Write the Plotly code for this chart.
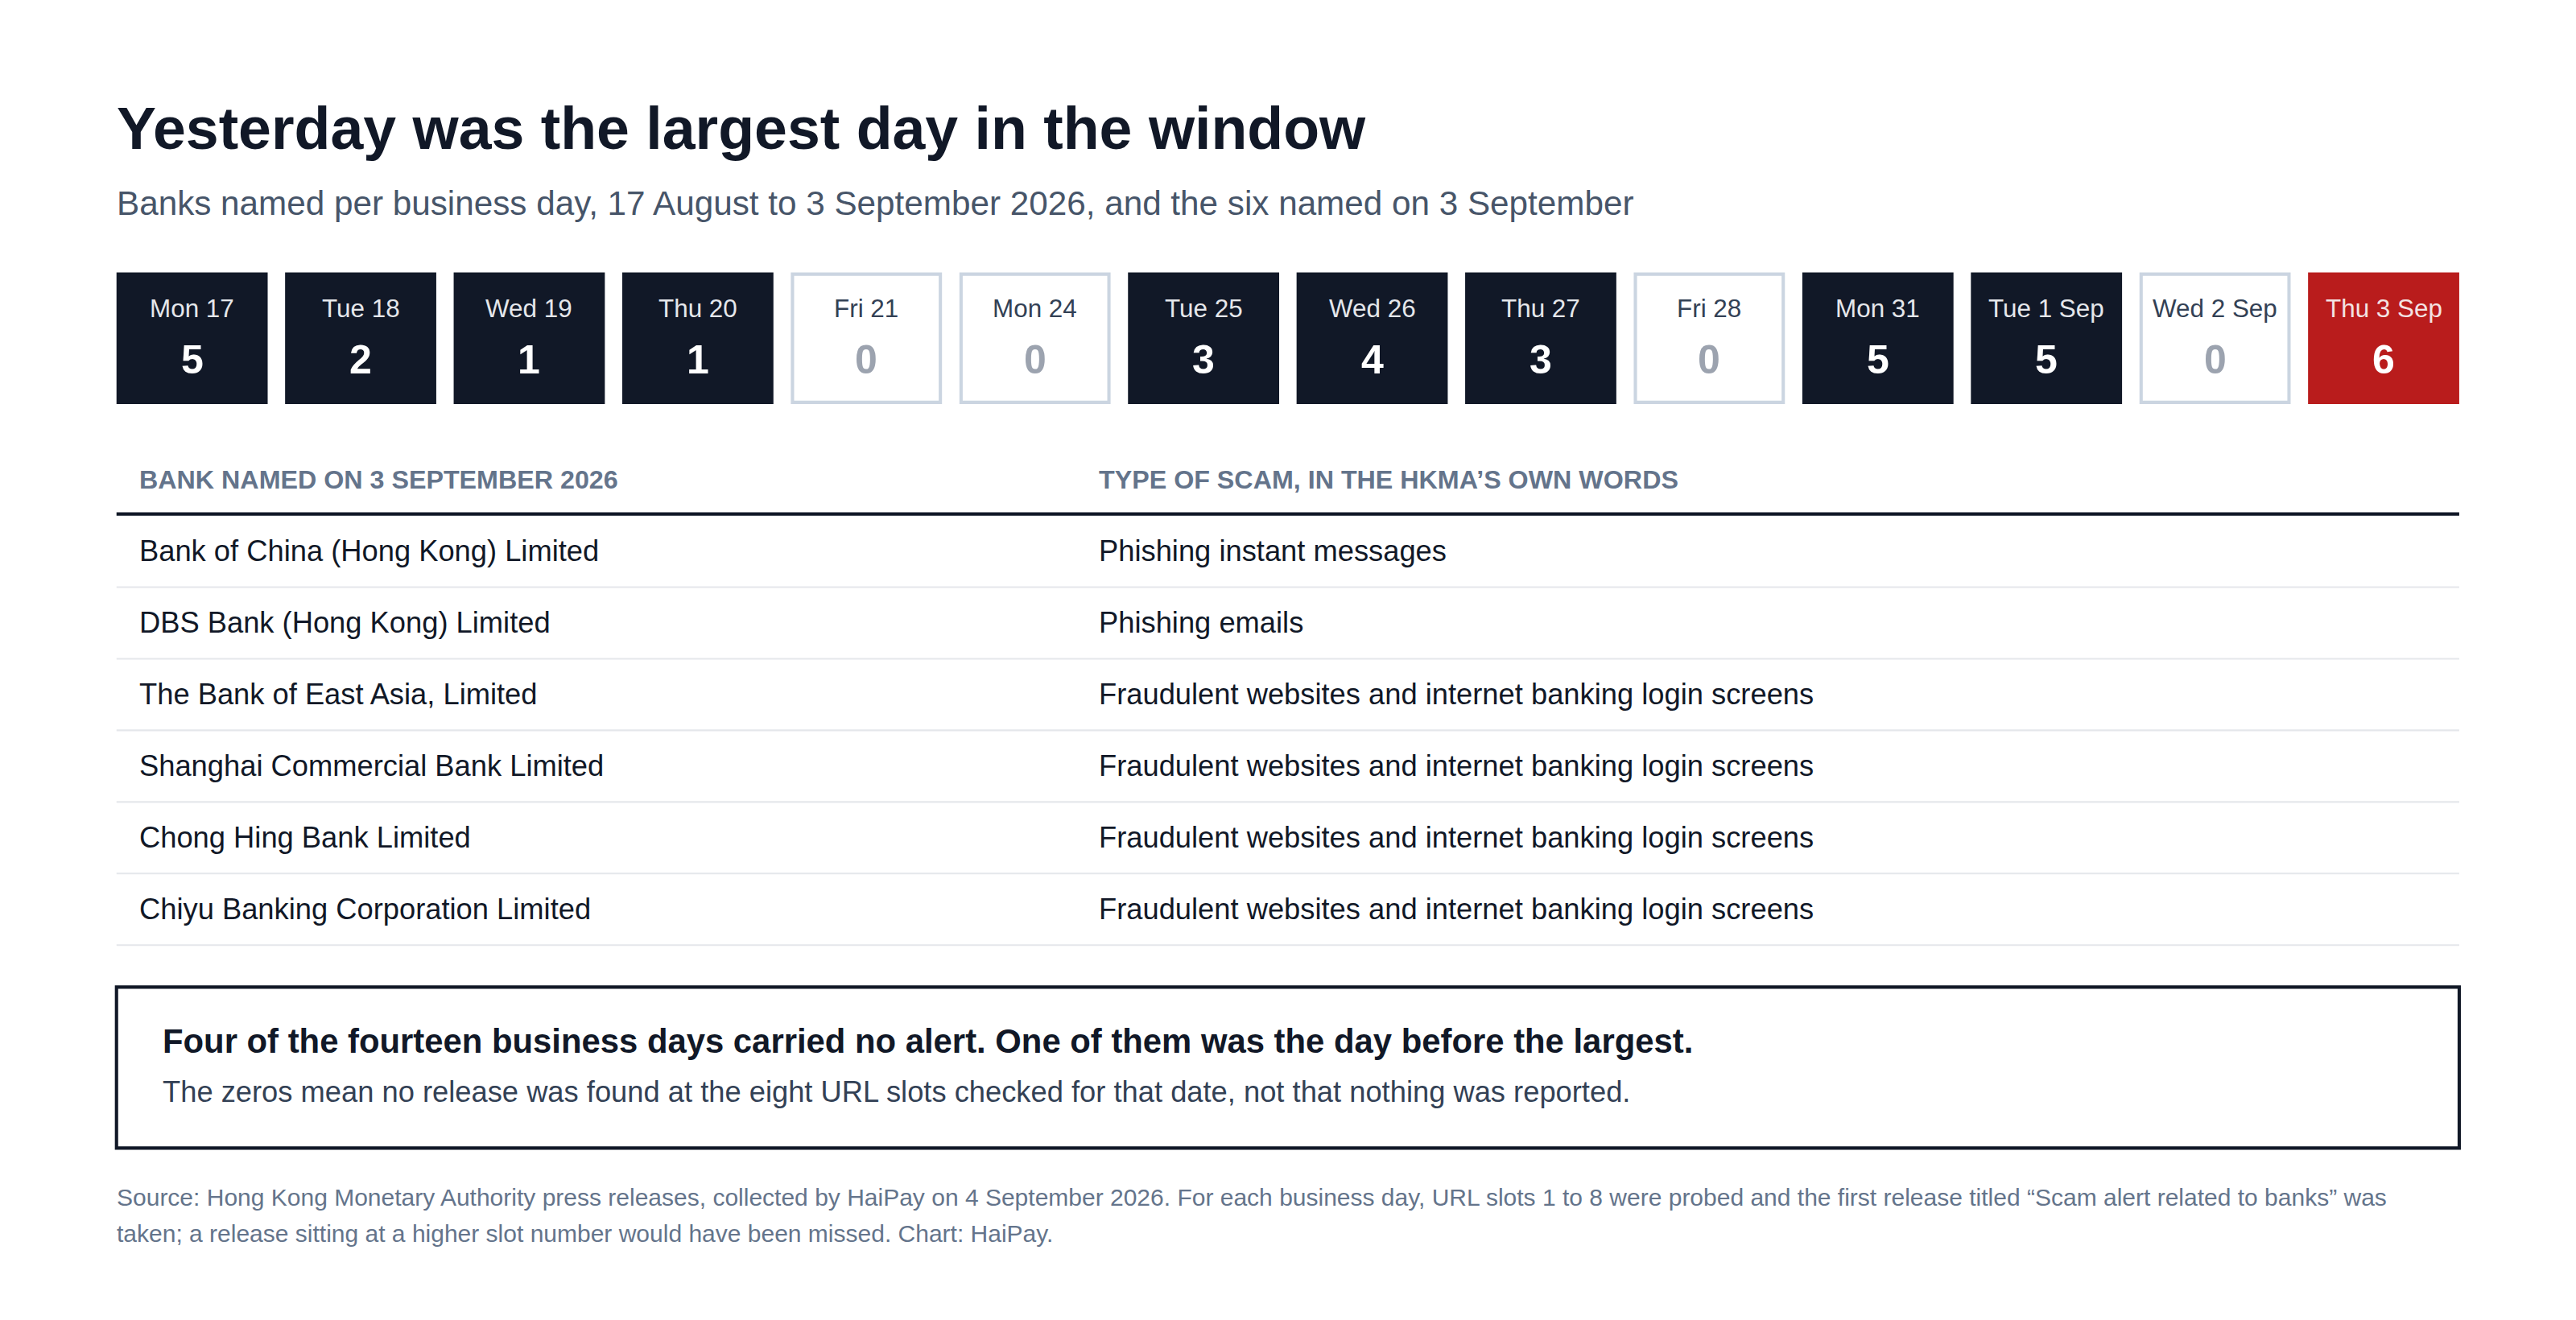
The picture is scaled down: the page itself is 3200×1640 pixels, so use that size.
import plotly.graph_objects as go

# business days and number of banks named
days = ["Mon 17", "Tue 18", "Wed 19", "Thu 20", "Fri 21", "Mon 24", "Tue 25",
        "Wed 26", "Thu 27", "Fri 28", "Mon 31", "Tue 1 Sep", "Wed 2 Sep", "Thu 3 Sep"]
counts = [5, 2, 1, 1, 0, 0, 3, 4, 3, 0, 5, 5, 0, 6]

banks = ["Bank of China (Hong Kong) Limited",
         "DBS Bank (Hong Kong) Limited",
         "The Bank of East Asia, Limited",
         "Shanghai Commercial Bank Limited",
         "Chong Hing Bank Limited",
         "Chiyu Banking Corporation Limited"]
scams = ["Phishing instant messages",
         "Phishing emails",
         "Fraudulent websites and internet banking login screens",
         "Fraudulent websites and internet banking login screens",
         "Fraudulent websites and internet banking login screens",
         "Fraudulent websites and internet banking login screens"]

W, H = 3200, 1640
S = W / 1568.0  # layout units -> pixels
FONT = "Liberation Sans, Arial, Helvetica, sans-serif"
DARK = "#111827"
RED = "#B91C1C"
SLATE = "#475569"
MUTED = "#64748B"

L, R = 71, 1497
shapes = []
ann = []


def text(x, y, s, size, color, bold=False, anchor="left"):
    ann.append(dict(x=x, y=y, xref="x", yref="y", text="<b>%s</b>" % s if bold else s,
                    showarrow=False, xanchor=anchor, yanchor="middle",
                    font=dict(family=FONT, size=size * S, color=color)))


text(70, 78, "Yesterday was the largest day in the window", 36, DARK, bold=True)
text(70, 124, "Banks named per business day, 17 August to 3 September 2026, and the six named on 3 September",
     20.7, SLATE)

# day tiles
n = len(days)
gap = 10.6
bw = (R - L - gap * (n - 1)) / n
top, bot = 166, 246
for i, (d, c) in enumerate(zip(days, counts)):
    x0 = L + i * (bw + gap)
    cx = x0 + bw / 2
    if i == n - 1:
        fill, line, lc, nc = RED, RED, "#F3E3E3", "white"
    elif c > 0:
        fill, line, lc, nc = DARK, DARK, "#E5E7EB", "white"
    else:
        fill, line, lc, nc = "white", "#CBD5E1", "#334155", "#9CA3AF"
    inset = 1 if c == 0 and i != n - 1 else 0
    shapes.append(dict(type="rect", xref="x", yref="y", x0=x0 + inset, x1=x0 + bw - inset,
                       y0=top + inset, y1=bot - inset, fillcolor=fill,
                       line=dict(color=line, width=2 * S if inset else 0), layer="below"))
    text(cx, 188, d, 15.4, lc, anchor="center")
    text(cx, 219, str(c), 24.5, nc, bold=True, anchor="center")

# table
c1, c2 = 84, 668
text(c1, 292, "BANK NAMED ON 3 SEPTEMBER 2026", 15.8, MUTED, bold=True)
text(c2, 292, "TYPE OF SCAM, IN THE HKMA\u2019S OWN WORDS", 15.8, MUTED, bold=True)
shapes.append(dict(type="line", xref="x", yref="y", x0=L, x1=R, y0=313, y1=313,
                   line=dict(color=DARK, width=2 * S)))
row_h = 43.6
for j, (b, s) in enumerate(zip(banks, scams)):
    yc = 335.5 + j * row_h
    text(c1, yc, b, 17.8, DARK)
    text(c2, yc, s, 17.8, DARK)
    shapes.append(dict(type="line", xref="x", yref="y", x0=L, x1=R, y0=yc + 22, y1=yc + 22,
                       line=dict(color="#E5E7EB", width=1 * S)))

# callout
shapes.append(dict(type="rect", xref="x", yref="y", x0=L, x1=R, y0=601, y1=699,
                   line=dict(color=DARK, width=2 * S), fillcolor="rgba(0,0,0,0)"))
text(98, 634, "Four of the fourteen business days carried no alert. One of them was the day before the largest.",
     20.5, DARK, bold=True)
text(98, 665, "The zeros mean no release was found at the eight URL slots checked for that date, not that nothing was reported.",
     17.8, "#334155")

# footer
text(70, 729, "Source: Hong Kong Monetary Authority press releases, collected by HaiPay on 4 September 2026. "
     "For each business day, URL slots 1 to 8 were probed and the first release titled \u201cScam alert related to banks\u201d was",
     14.7, MUTED)
text(70, 751, "taken; a release sitting at a higher slot number would have been missed. Chart: HaiPay.", 14.7, MUTED)

fig = go.Figure()
fig.update_layout(width=W, height=H, margin=dict(l=0, r=0, t=0, b=0),
                  paper_bgcolor="white", plot_bgcolor="white",
                  xaxis=dict(range=[4, 4 + 1568], visible=False, fixedrange=True),
                  yaxis=dict(range=[4 + H / S, 4], visible=False, fixedrange=True),
                  shapes=shapes, annotations=ann, showlegend=False)
fig.write_html("out.html")
